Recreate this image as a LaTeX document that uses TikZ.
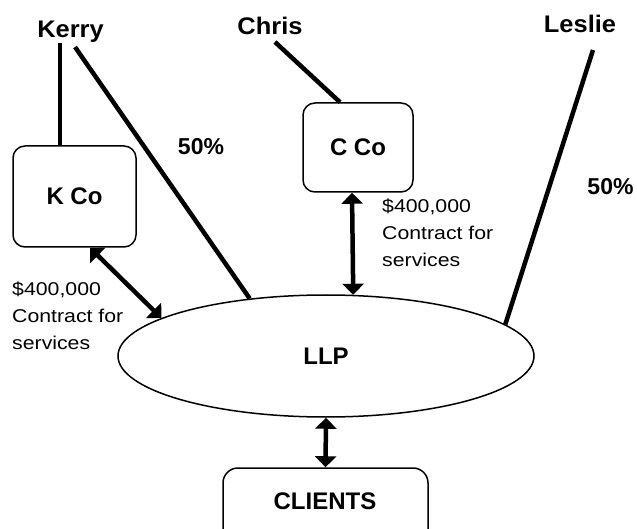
\documentclass[tikz,border=0pt]{standalone}
\usepackage{fontspec}
\setmainfont{Liberation Sans}
\newfontfamily\smallf{Liberation Sans}[FakeStretch=1.15]
\newfontfamily\namef{Liberation Sans}[FakeStretch=1.06]
\usetikzlibrary{arrows.meta,shapes.geometric,calc}
\begin{document}
\begin{tikzpicture}[x=1pt,y=-1pt,
  person/.style={font=\namef\bfseries\fontsize{24}{28}\selectfont, inner sep=0pt},
  pct/.style={font=\bfseries\fontsize{23}{27}\selectfont, inner sep=0pt},
  entity/.style={draw, line width=1.5pt, rounded corners=12pt, font=\bfseries\fontsize{24}{28}\selectfont, inner sep=0pt},
  boxlbl/.style={font=\bfseries\fontsize{24}{28}\selectfont, inner sep=0pt},
  note/.style={font=\smallf\fontsize{18.5}{27}\selectfont, align=left, inner sep=0pt},
  own/.style={line width=4.5pt},
  dbl/.style={line width=4.5pt, {Triangle[width=21pt,length=11pt]}-{Triangle[width=21pt,length=11pt]}}
]
\path[use as bounding box, clip] (0,0) rectangle (637,529);
\fill[white] (0,0) rectangle (637,529);

% names
\node[person, anchor=base] (kerry) at (70.5,38) {Kerry};
\node[person, anchor=base] (chris) at (270,35) {Chris};
\node[person, anchor=base] (leslie) at (580,33) {Leslie};

% entities
\node[entity, minimum width=123pt, minimum height=101pt] (kco) at (74.5,196.5) {K Co};
\node[entity, minimum width=110pt, minimum height=89pt] (cco) at (358,147.5) {C Co};
\node[draw, ellipse, line width=1.5pt, minimum width=416pt, minimum height=122pt, inner sep=0pt,
      font=\bfseries\fontsize{24}{28}\selectfont] (llp) at (326,356) {LLP};
\node[entity, rounded corners=15pt, minimum width=205pt, minimum height=100pt] (clients) at (325.5,518) {};
\node[boxlbl] (clientslbl) at (325,501) {CLIENTS};

% percentages
\node[pct, anchor=base] (p1) at (201,155) {50\%};
\node[pct, anchor=base] (p2) at (610.5,195) {50\%};

% contract labels (base = last line)
\node[note, anchor=base west] (n1) at (382,267) {\$400,000\\Contract for\\services};
\node[note, anchor=base west] (n2) at (12,349) {\$400,000\\Contract for\\services};

% ownership lines
\coordinate (kv) at (60,43);
\coordinate (kd) at (75,47);
\coordinate (cd) at (275,42);
\coordinate (ld) at (593,50);
\draw[own] (kv) -- (kco.north -| kv);
\draw[own] (kd) -- (llp.143.6);
\draw[own] (cd) -- ($(cco.north)+(-18,0)$);
\draw[own] (ld) -- (llp.10.8);

% contracts
\draw[dbl] ($(cco.south)+(-6,0)$) -- (llp.66.9);
\draw[dbl] ($(kco.south)+(15.5,0)$) -- (llp.167.9);
\draw[dbl] (llp.south) -- (clients.north);
\end{tikzpicture}
\end{document}
